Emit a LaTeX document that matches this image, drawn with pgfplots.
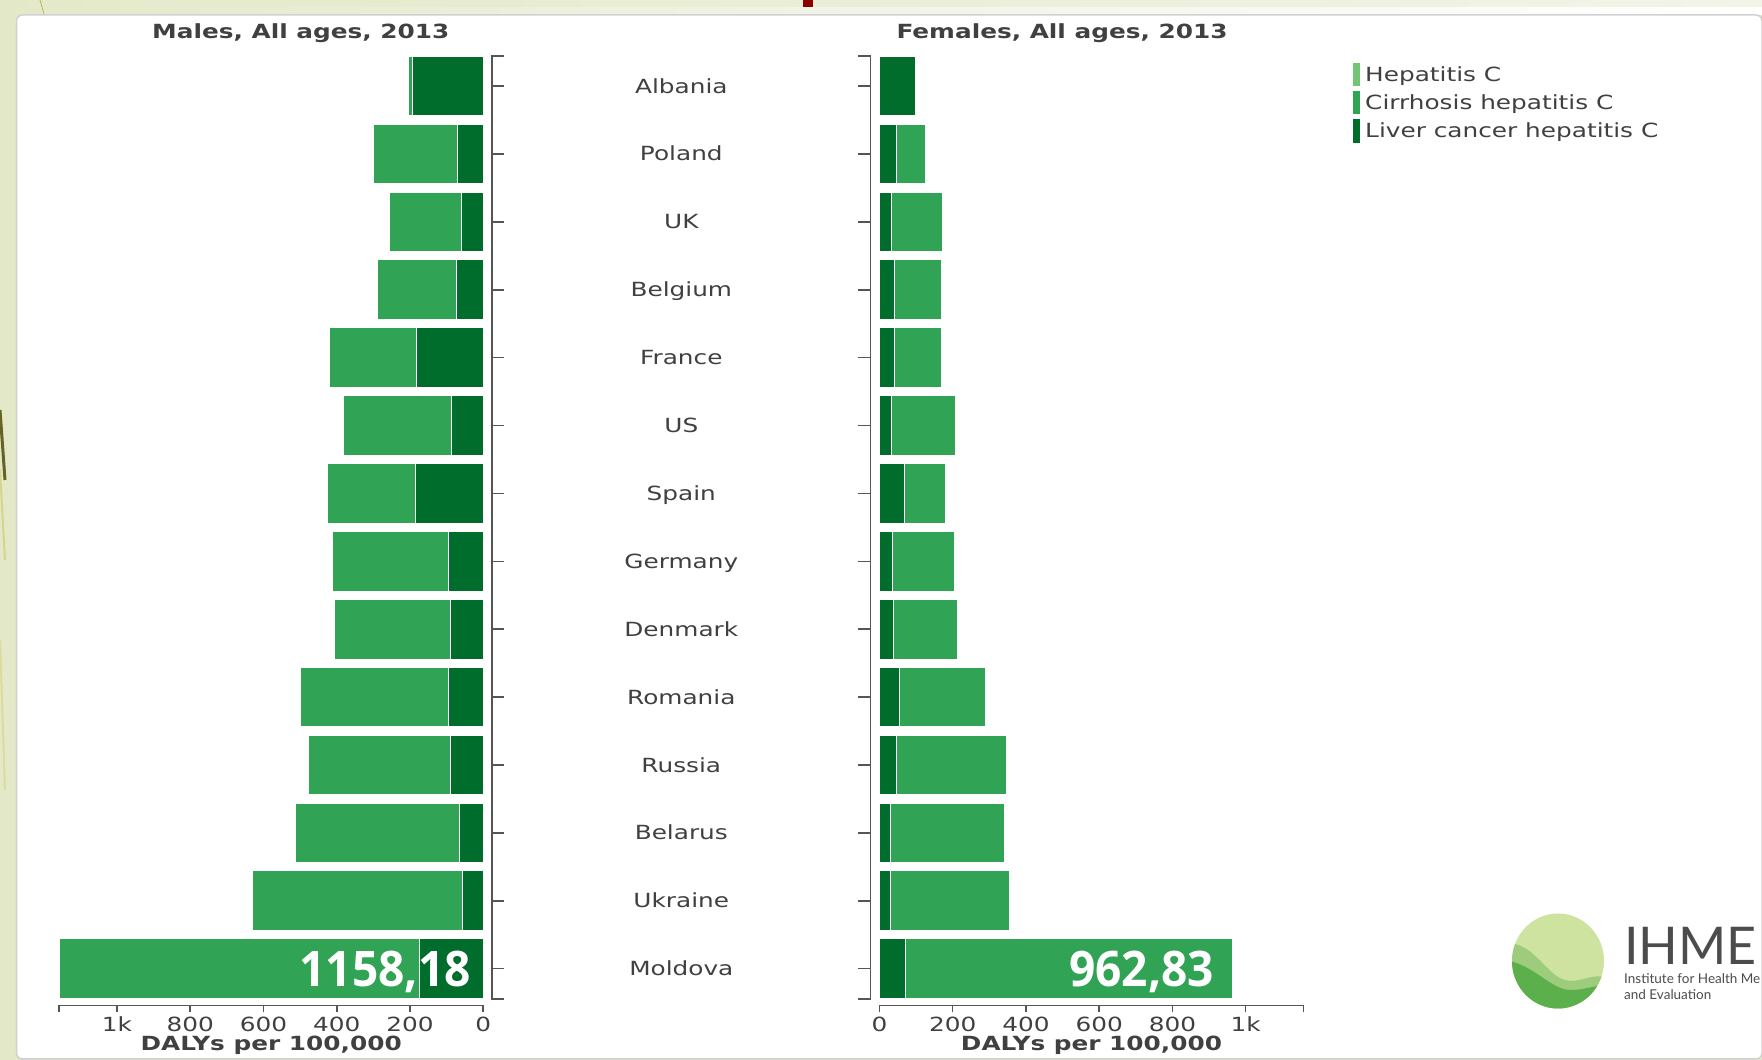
\documentclass[border=0pt]{standalone}
\usepackage{fontspec}
\setmainfont{DejaVu Sans}[FakeStretch=1.27]
\newfontfamily\valfont{Open Sans}[FakeStretch=0.94]
\newfontfamily\logofont{Lato}
\usepackage{pgfplots}
\pgfplotsset{compat=1.18}
\usepackage{pgfplotstable}

\definecolor{axgray}{HTML}{555555}
\definecolor{txtgray}{HTML}{404040}
\definecolor{hepc}{HTML}{74C476}
\definecolor{cirr}{HTML}{31A354}
\definecolor{liver}{HTML}{006D2C}
\definecolor{bgolive}{HTML}{E3E9C8}
\definecolor{stripc}{HTML}{F2F4E8}
\definecolor{logolight}{HTML}{CFE3A0}
\definecolor{logomid}{HTML}{9DCC7C}
\definecolor{logodark}{HTML}{5CB04B}
\newcommand\fs{\fontsize{19.5}{23}\selectfont}

% y: 13 = Albania (top) ... 0 = Moldova (bottom)
\pgfplotstableread{
y  liver cirr
13 194   10
12 70    230
11 59    196
10 72    218
9  183   237
8  88    293
7  186   240
6  95    318
5  89    318
4  95    405
3  89    389
2  66    448
1  56    574
0  174   984.18
}\males
\pgfplotstableread{
y  liver cirr
13 98    0
12 46    79
11 34    139
10 42    127
9  42    127
8  34    173
7  69    112
6  37    167
5  38    175
4  56    234
3  46    302
2  30    312
1  29    326
0  72    890.83
}\females

\pgfplotsset{
  panel/.style={
    scale only axis, width=424.2pt, height=949.7pt,
    xmin=0, xmax=1158.18, ymin=-0.542, ymax=13.445,
    xbar stacked, bar width=59.6pt, clip=false,
    axis x line*=bottom, axis y line=none, ytick=\empty,
    axis line style={draw=axgray, line width=1.6pt},
    tick align=outside, major tick length=7pt,
    tick style={draw=axgray, line width=1.6pt},
    xtick={0,200,400,600,800,1000,1158.18},
    xticklabels={0,200,400,600,800,1k,{}},
    xticklabel style={font=\fs, text=txtgray, inner sep=0pt, anchor=north, yshift=-4pt},
    every axis plot/.append style={draw=white, line width=1pt},
  },
}

\begin{document}
\begin{tikzpicture}[x=1pt,y=1pt]
\useasboundingbox (0,0) rectangle (1762,1060);
% slide background
\fill[bgolive] (0,0) rectangle (1762,1060);
\shade[left color=bgolive, right color=white, middle color=stripc] (0,1045) rectangle (1762,1060);
\shade[left color=bgolive, right color=stripc] (0,1053) rectangle (1762,1060);
\fill[red!55!black] (803,1053) rectangle (813,1060);
\draw[color=black!35!olive, line width=3pt] (0,650) -- (5,580);
\draw[color=olive!35, line width=2pt] (0,590) -- (5,500);
\draw[color=olive!30, line width=2pt] (0,420) -- (5,270);
\draw[color=olive!60, line width=0.8pt] (40,1060) -- (44,1046);
% white panel
\draw[draw=black!18, line width=1.5pt, fill=white, rounded corners=6pt] (16.5,1) rectangle (1762,1045);

% ---- Males ----
\begin{axis}[panel, at={(59.1pt,54.5pt)}, anchor=south west, x dir=reverse]
\addplot[fill=liver] table[x=liver,y=y]{\males};
\addplot[fill=cirr] table[x=cirr,y=y]{\males};
\draw[axgray, line width=1.6pt] ([xshift=21pt]axis cs:0,13.445) -- ([xshift=9pt]axis cs:0,13.445) -- ([xshift=9pt]axis cs:0,-0.45) -- ([xshift=21pt]axis cs:0,-0.45);
\pgfplotsinvokeforeach{0,...,13}{\draw[axgray, line width=1.6pt] ([xshift=9pt]axis cs:0,#1) -- ([xshift=21pt]axis cs:0,#1);}
\coordinate (mval) at (axis cs:34,-0.26);
\end{axis}

% ---- Females ----
\begin{axis}[panel, at={(879.4pt,54.5pt)}, anchor=south west]
\addplot[fill=liver] table[x=liver,y=y]{\females};
\addplot[fill=cirr] table[x=cirr,y=y]{\females};
\draw[axgray, line width=1.6pt] ([xshift=-21pt]axis cs:0,13.445) -- ([xshift=-9pt]axis cs:0,13.445) -- ([xshift=-9pt]axis cs:0,-0.45) -- ([xshift=-21pt]axis cs:0,-0.45);
\pgfplotsinvokeforeach{0,...,13}{\draw[axgray, line width=1.6pt] ([xshift=-9pt]axis cs:0,#1) -- ([xshift=-21pt]axis cs:0,#1);}
\coordinate (fval) at (axis cs:914,-0.26);
\end{axis}

% value labels on the Moldova bars
\node[anchor=base east, inner sep=0pt, text=white, font=\valfont\bfseries\fontsize{49}{50}\selectfont] at (mval) {1158,18};
\node[anchor=base east, inner sep=0pt, text=white, font=\valfont\bfseries\fontsize{49}{50}\selectfont] at (fval) {962,83};

% country names
\foreach \n [count=\i from 0] in {Albania,Poland,UK,Belgium,France,US,Spain,Germany,Denmark,Romania,Russia,Belarus,Ukraine,Moldova}
  \node[anchor=base, inner sep=0pt, font=\fs, text=txtgray] at (681.3, {1060-86-67.9*\i-7.1}) {\n};

% titles and axis labels
\node[anchor=base, inner sep=0pt, font=\fs\bfseries, text=txtgray] at (300.8,1021.4) {Males, All ages, 2013};
\node[anchor=base, inner sep=0pt, font=\fs\bfseries, text=txtgray] at (1062,1021.4) {Females, All ages, 2013};
\node[anchor=base, inner sep=0pt, font=\fs\bfseries, text=txtgray] at (271.2,9.5) {DALYs per 100,000};
\node[anchor=base, inner sep=0pt, font=\fs\bfseries, text=txtgray] at (1091.5,9.5) {DALYs per 100,000};

% legend
\fill[hepc]  (1352.7,997) rectangle (1359.7,974);
\fill[cirr]  (1352.7,968.7) rectangle (1359.7,945.7);
\fill[liver] (1352.7,940.5) rectangle (1359.7,917);
\node[anchor=base west, inner sep=0pt, font=\fs, text=txtgray] at (1365,978.7) {Hepatitis C};
\node[anchor=base west, inner sep=0pt, font=\fs, text=txtgray] at (1365,950.5) {Cirrhosis hepatitis C};
\node[anchor=base west, inner sep=0pt, font=\fs, text=txtgray] at (1365,922.3) {Liver cancer hepatitis C};

% logo
\begin{scope}
\clip (1558,99) ellipse [x radius=46, y radius=47.5];
\fill[logolight] (1500,40) rectangle (1620,160);
\fill[logomid] (1500,115) .. controls (1530,125) and (1545,85) .. (1565,80) .. controls (1580,76) and (1592,88) .. (1610,82) -- (1610,40) -- (1500,40) -- cycle;
\fill[logodark] (1500,100) .. controls (1530,100) and (1550,70) .. (1570,70) .. controls (1585,70) and (1595,75) .. (1610,75) -- (1610,40) -- (1500,40) -- cycle;
\end{scope}
\begin{scope}
\clip (0,0) rectangle (1759,1060);
\node[anchor=base west, inner sep=0pt, font=\logofont\fontsize{52}{52}\selectfont, text=black!70] at (1624,95) {IHME};
\node[anchor=base west, inner sep=0pt, font=\logofont\fontsize{13.5}{13.5}\selectfont, text=black!70] at (1624,76) {Institute for Health Metrics};
\node[anchor=base west, inner sep=0pt, font=\logofont\fontsize{13.5}{13.5}\selectfont, text=black!70] at (1624,60) {and Evaluation};
\end{scope}
\end{tikzpicture}
\end{document}
